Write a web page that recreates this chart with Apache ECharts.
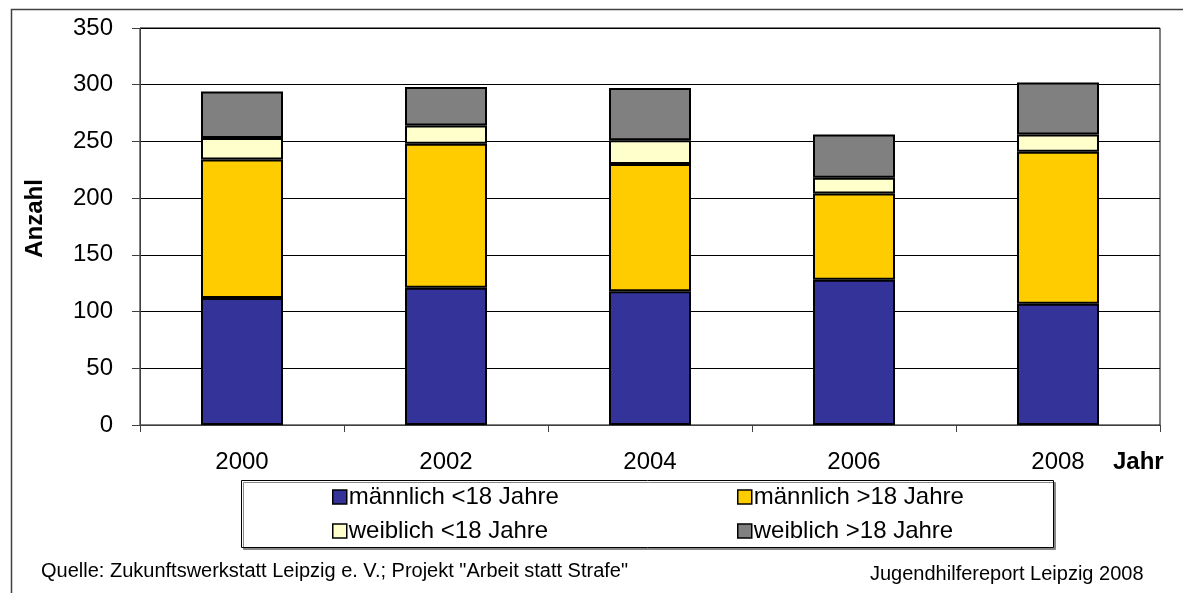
<!DOCTYPE html>
<html>
<head>
<meta charset="utf-8">
<script src="https://cdn.jsdelivr.net/npm/echarts@6/dist/echarts.min.js"></script>
<style>
  html, body { margin: 0; padding: 0; background: #fff; }
  #chart { width: 1183px; height: 593px; }
</style>
</head>
<body>
<div id="chart"></div>
<script>
// Werte
var years = ['2000', '2002', '2004', '2006', '2008'];
var maleUnder18 = [112, 121, 118, 128, 107];
var maleOver18 = [122, 127, 112, 76, 134];
var femaleUnder18 = [19, 16, 21, 14, 15];
var femaleOver18 = [41, 34, 46, 38, 46];
var seriesNames = ['männlich <18 Jahre', 'männlich >18 Jahre', 'weiblich <18 Jahre', 'weiblich >18 Jahre'];
var seriesColors = ['#333399', '#FFCC00', '#FFFFCC', '#808080'];
var yTicks = [0, 50, 100, 150, 200, 250, 300, 350];

var font = "'Liberation Sans', Arial, sans-serif";
var myChart = echarts.init(document.getElementById('chart'));

function bar(i, data) {
  return {
    name: seriesNames[i],
    type: 'bar',
    stack: 'total',
    barWidth: 82,
    data: data,
    itemStyle: { color: seriesColors[i], borderColor: '#000', borderWidth: 2 },
    emphasis: { disabled: true }
  };
}

var legendBase = {
  orient: 'vertical',
  top: 479,
  itemWidth: 14,
  itemHeight: 14,
  itemGap: 8,
  icon: 'rect',
  selectedMode: false,
  textStyle: { fontFamily: font, fontSize: 24, color: '#000', padding: [0, 0, 0, -3], lineHeight: 26 },
  itemStyle: { borderColor: '#000', borderWidth: 1.5 }
};

var option = {
  animation: false,
  backgroundColor: '#fff',
  grid: { left: 140, right: 23, top: 28, bottom: 168, show: true, borderColor: '#000', borderWidth: 1 },
  legend: [
    Object.assign({}, legendBase, { left: 327, data: [seriesNames[0], seriesNames[2]] }),
    Object.assign({}, legendBase, { left: 732, data: [seriesNames[1], seriesNames[3]] })
  ],
  xAxis: {
    type: 'category',
    data: years,
    axisLine: { lineStyle: { color: '#404040', width: 1 } },
    axisTick: { show: true, length: 7, lineStyle: { color: '#404040' } },
    axisLabel: { fontFamily: font, fontSize: 24, color: '#000', margin: 25 }
  },
  yAxis: {
    type: 'value',
    min: yTicks[0],
    max: yTicks[yTicks.length - 1],
    interval: 50,
    name: 'Anzahl',
    nameLocation: 'middle',
    nameRotate: 90,
    nameGap: 93,
    nameTextStyle: { fontFamily: font, fontSize: 24, fontWeight: 'bold', color: '#000', padding: [0, 0, 0, 16] },
    axisLine: { show: true, lineStyle: { color: '#404040', width: 1 } },
    axisTick: { show: true, length: 8, lineStyle: { color: '#404040' } },
    axisLabel: { fontFamily: font, fontSize: 24, color: '#000', margin: 27 },
    splitLine: { show: true, lineStyle: { color: '#000', width: 1 } }
  },
  graphic: [
    { type: 'rect', left: 9, top: 7, z: -10, silent: true,
      shape: { x: 0, y: 0, width: 1300, height: 700 },
      style: { fill: 'none', stroke: '#404040', lineWidth: 1.5 } },
    { type: 'rect', z: -5, silent: true,
      shape: { x: 241.5, y: 480.5, width: 812, height: 67 },
      style: { fill: '#fff', stroke: '#000', lineWidth: 1, shadowColor: '#888', shadowOffsetX: 2, shadowOffsetY: 2, shadowBlur: 0 } },
    { type: 'text', silent: true,
      style: { x: 1113, y: 462, text: 'Jahr', font: 'bold 24px ' + font, fill: '#000', verticalAlign: 'middle' } },
    { type: 'text', silent: true,
      style: { x: 41, y: 571, text: 'Quelle: Zukunftswerkstatt Leipzig e. V.; Projekt "Arbeit statt Strafe"', font: '20px ' + font, fill: '#000', verticalAlign: 'middle' } },
    { type: 'text', silent: true,
      style: { x: 870, y: 574, text: 'Jugendhilfereport Leipzig 2008', font: '20px ' + font, fill: '#000', verticalAlign: 'middle' } }
  ],
  series: [
    bar(0, maleUnder18),
    bar(1, maleOver18),
    bar(2, femaleUnder18),
    bar(3, femaleOver18)
  ]
};
myChart.setOption(option);
</script>
</body>
</html>
